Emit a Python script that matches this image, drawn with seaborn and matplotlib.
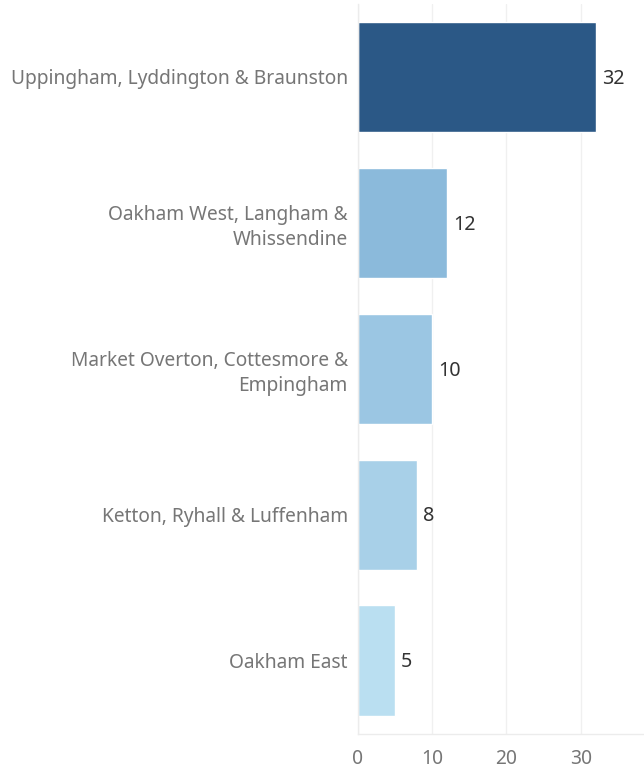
import matplotlib
matplotlib.use("Agg")
import matplotlib.pyplot as plt
import seaborn as sns
import pandas as pd

categories = ["Uppingham, Lyddington & Braunston",
              "Oakham West, Langham &\nWhissendine",
              "Market Overton, Cottesmore &\nEmpingham",
              "Ketton, Ryhall & Luffenham",
              "Oakham East"]
values = [32, 12, 10, 8, 5]
colors = ["#2b5886", "#8bbadb", "#9bc6e3", "#a8d0e8", "#badff1"]
xticks = [0, 10, 20, 30]

sns.set_theme(style="white")
plt.rcParams['font.family'] = ['Noto Sans', 'DejaVu Sans']

df = pd.DataFrame({"cat": categories, "val": values})

fig = plt.figure(figsize=(6.44, 7.72), dpi=100)
ax = fig.add_axes([357.5/644, 38.5/772, 1 - 357.5/644, (733.5-4)/772])
sns.barplot(data=df, x="val", y="cat", hue="cat", palette=colors, legend=False,
            width=0.755, ax=ax, saturation=1)

ax.set_xlim(0, 38.5)
ax.set_ylim(4.5, -0.5)
ax.set_xticks(xticks)
ax.set_xticklabels([str(t) for t in xticks])
ax.set_xlabel("")
ax.set_ylabel("")
ax.grid(axis="x", color="#f0f0f0", linewidth=1)
ax.set_axisbelow(True)
for s in ["top", "right"]:
    ax.spines[s].set_visible(False)
for s in ["left", "bottom"]:
    ax.spines[s].set_color("#ececec")
    ax.spines[s].set_linewidth(1)
ax.tick_params(axis="both", length=0, labelsize=13.8, labelcolor="#767676")
ax.tick_params(axis="y", pad=7)
ax.tick_params(axis="x", pad=11)
for lab in ax.get_yticklabels():
    lab.set_horizontalalignment("right")
    lab.set_multialignment("right")
    lab.set_linespacing(1.32)

for i, v in enumerate(values):
    ax.text(v + 0.8, i + 0.012, str(v), va="center", ha="left", fontsize=14.2, color="#333333")

fig.savefig("out.png", dpi=100)
